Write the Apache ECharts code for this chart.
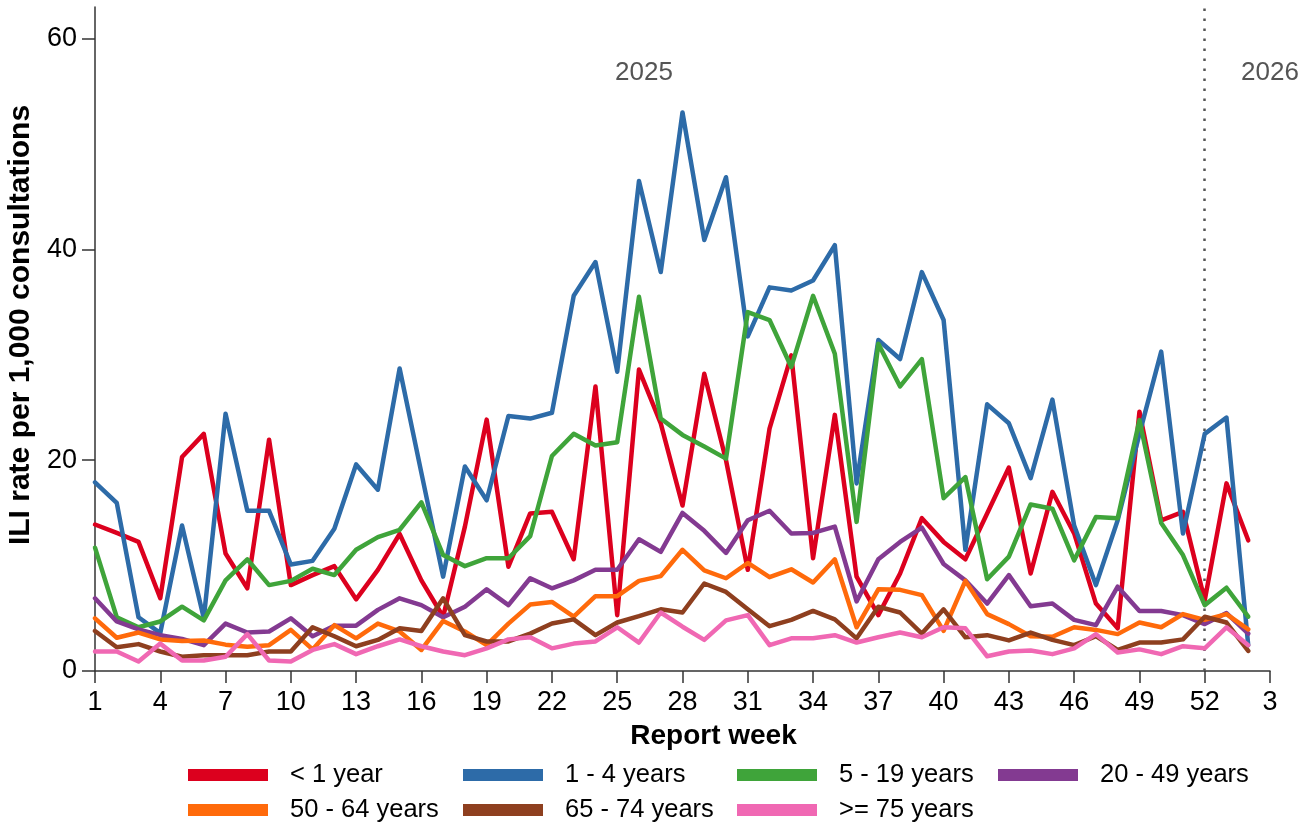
<!DOCTYPE html>
<html>
<head>
<meta charset="utf-8">
<title>ILI rate per 1,000 consultations by age group</title>
<script src="https://cdn.jsdelivr.net/npm/echarts@6/dist/echarts.min.js"></script>
<style>
  html, body { margin: 0; padding: 0; background: #fff; }
  #chart { width: 1309px; height: 826px; }
</style>
</head>
<body>
<div id="chart"></div>
<script>
// Report weeks: 2025 weeks 1-52, then 2026 weeks 1-3
const reportWeeks = [
  '2025-01','2025-02','2025-03','2025-04','2025-05','2025-06','2025-07','2025-08','2025-09','2025-10',
  '2025-11','2025-12','2025-13','2025-14','2025-15','2025-16','2025-17','2025-18','2025-19','2025-20',
  '2025-21','2025-22','2025-23','2025-24','2025-25','2025-26','2025-27','2025-28','2025-29','2025-30',
  '2025-31','2025-32','2025-33','2025-34','2025-35','2025-36','2025-37','2025-38','2025-39','2025-40',
  '2025-41','2025-42','2025-43','2025-44','2025-45','2025-46','2025-47','2025-48','2025-49','2025-50',
  '2025-51','2025-52','2026-01','2026-02','2026-03'
];

const yTicks = [0, 20, 40, 60];

const ageGroups = ['< 1 year', '1 - 4 years', '5 - 19 years', '20 - 49 years',
                   '50 - 64 years', '65 - 74 years', '>= 75 years'];

// ILI rate per 1,000 consultations, one value per report week
const under1 = [
  13.9, 13.1, 12.25, 6.9, 20.3, 22.5, 11.15, 7.85, 21.95, 8.15,
  9.1, 9.95, 6.8, 9.6, 13.0, 8.6, 5.15, 13.7, 23.85, 9.9,
  14.95, 15.1, 10.6, 27.0, 5.3, 28.6, 23.5, 15.7, 28.2, 20.0,
  9.6, 23.0, 29.95, 10.7, 24.3, 8.95, 5.3, 9.25, 14.5, 12.25,
  10.6, 14.95, 19.3, 9.25, 17.0, 13.05, 6.4, 4.05, 24.6, 14.3,
  15.1, 6.7, 17.8, 12.4
];
const age1to4 = [
  17.9, 15.95, 5.1, 3.6, 13.8, 5.0, 24.4, 15.2, 15.2, 10.1,
  10.45, 13.5, 19.6, 17.2, 28.7, 18.8, 8.95, 19.4, 16.2, 24.2,
  23.95, 24.5, 35.6, 38.8, 28.4, 46.5, 37.85, 53.0, 40.9, 46.85,
  31.75, 36.4, 36.1, 37.05, 40.4, 17.8, 31.4, 29.6, 37.85, 33.3,
  11.5, 25.3, 23.5, 18.3, 25.75, 13.8, 8.15, 14.3, 22.5, 30.3,
  13.05, 22.5, 24.05, 2.45
];
const age5to19 = [
  11.7, 5.1, 4.15, 4.7, 6.1, 4.8, 8.6, 10.6, 8.15, 8.55,
  9.7, 9.1, 11.5, 12.7, 13.4, 16.0, 11.0, 9.95, 10.7, 10.7,
  12.8, 20.4, 22.5, 21.4, 21.7, 35.5, 23.95, 22.4, 21.3, 20.15,
  34.05, 33.3, 28.85, 35.6, 30.1, 14.15, 31.05, 27.0, 29.6, 16.4,
  18.4, 8.7, 10.85, 15.8, 15.4, 10.5, 14.6, 14.5, 23.8, 14.05,
  11.0, 6.25, 7.9, 5.15
];
const age20to49 = [
  6.9, 4.7, 3.95, 3.4, 3.05, 2.45, 4.5, 3.65, 3.75, 5.0,
  3.3, 4.3, 4.3, 5.8, 6.9, 6.25, 5.1, 6.1, 7.75, 6.25,
  8.8, 7.85, 8.6, 9.6, 9.6, 12.5, 11.3, 15.0, 13.3, 11.2,
  14.3, 15.2, 13.05, 13.1, 13.7, 6.6, 10.6, 12.25, 13.6, 10.15,
  8.6, 6.4, 9.1, 6.15, 6.4, 4.85, 4.35, 8.0, 5.7, 5.7,
  5.3, 4.45, 5.5, 3.55
];
const age50to64 = [
  5.0, 3.15, 3.65, 3.0, 2.85, 2.9, 2.5, 2.3, 2.45, 3.9,
  2.05, 4.35, 3.1, 4.5, 3.75, 2.0, 4.75, 3.75, 2.45, 4.5,
  6.3, 6.55, 5.15, 7.1, 7.1, 8.55, 9.0, 11.5, 9.55, 8.8,
  10.25, 8.9, 9.65, 8.4, 10.6, 4.15, 7.75, 7.7, 7.2, 3.8,
  8.55, 5.4, 4.45, 3.3, 3.25, 4.15, 3.9, 3.5, 4.6, 4.15,
  5.4, 4.85, 5.4, 3.95
];
const age65to74 = [
  3.8, 2.25, 2.55, 1.85, 1.35, 1.5, 1.5, 1.5, 1.85, 1.85,
  4.15, 3.3, 2.35, 2.95, 4.05, 3.8, 6.9, 3.4, 2.8, 2.8,
  3.55, 4.5, 4.9, 3.4, 4.6, 5.2, 5.85, 5.55, 8.3, 7.5,
  5.85, 4.25, 4.85, 5.7, 4.9, 3.1, 6.1, 5.55, 3.55, 5.85,
  3.2, 3.4, 2.9, 3.65, 2.95, 2.45, 3.3, 2.0, 2.7, 2.7,
  3.0, 5.15, 4.6, 1.9
];
const age75plus = [
  1.85, 1.85, 0.9, 2.6, 1.0, 1.0, 1.35, 3.5, 1.0, 0.9,
  2.0, 2.55, 1.6, 2.35, 3.0, 2.35, 1.85, 1.5, 2.15, 3.0,
  3.2, 2.15, 2.6, 2.8, 4.15, 2.7, 5.55, 4.2, 2.95, 4.8,
  5.3, 2.45, 3.1, 3.1, 3.4, 2.7, 3.2, 3.65, 3.2, 4.15,
  4.05, 1.4, 1.85, 1.95, 1.6, 2.15, 3.5, 1.75, 2.05, 1.6,
  2.35, 2.15, 4.15, 2.45
];

const seriesValues = [under1, age1to4, age5to19, age20to49, age50to64, age65to74, age75plus];
const colors = ['#DC001E', '#2D6BA8', '#3FA43A', '#833A91', '#FF6A0B', '#8E3F1F', '#F068B3'];

// Year annotations and the year boundary
const yearLabels = [
  { text: '2025', week: '2025-26', y: 56.8, shift: 5 },
  { text: '2026', week: '2026-03', y: 56.8, shift: 0 }
];
const yearBoundaryWeek = '2025-52';

const fontFamily = 'Liberation Sans, Arial, sans-serif';

// legend laid out as a 4-column grid, two rows
const legendSlots = [
  { left: 188, top: 762 }, { left: 463, top: 762 }, { left: 737, top: 762 }, { left: 998, top: 762 },
  { left: 188, top: 797 }, { left: 463, top: 797 }, { left: 737, top: 797 }
];

const chart = echarts.init(document.getElementById('chart'), null, { renderer: 'canvas' });

const series = ageGroups.map((name, i) => {
  const s = {
    name: name,
    type: 'line',
    data: seriesValues[i],
    symbol: 'none',
    showSymbol: false,
    smooth: false,
    lineStyle: { width: 4.5, color: colors[i], join: 'round', cap: 'round' },
    itemStyle: { color: colors[i] },
    emphasis: { disabled: true },
    z: 2 + i
  };
  if (i === 0) {
    s.markLine = {
      silent: true,
      symbol: ['none', 'none'],
      label: { show: false },
      lineStyle: { type: [2.5, 7.5], color: '#555', width: 2.5 },
      data: [{ xAxis: yearBoundaryWeek }],
      z: 1
    };
    s.markPoint = {
      silent: true,
      symbol: 'rect',
      symbolSize: 1,
      itemStyle: { color: 'rgba(0,0,0,0)' },
      label: {
        show: true,
        position: 'inside',
        color: '#555',
        fontSize: 26,
        fontFamily: fontFamily,
        formatter: p => p.name
      },
      data: yearLabels.map(d => ({
        name: d.text,
        coord: [d.week, d.y],
        label: { offset: [d.shift, 0] }
      }))
    };
  }
  return s;
});

const legends = ageGroups.map((name, i) => ({
  data: [{ name: name, icon: 'rect' }],
  left: legendSlots[i].left,
  top: legendSlots[i].top,
  padding: 0,
  itemWidth: 80,
  itemHeight: 12,
  selectedMode: false,
  textStyle: {
    fontSize: 25.5,
    fontFamily: fontFamily,
    color: '#000',
    padding: [0, 0, 0, 17]
  }
}));

chart.setOption({
  animation: false,
  backgroundColor: '#fff',
  grid: {
    left: 95, right: 39, top: 7, bottom: 155,
    containLabel: false,
    outerBoundsMode: 'none'
  },
  legend: legends,
  xAxis: {
    type: 'category',
    data: reportWeeks,
    boundaryGap: false,
    name: 'Report week',
    nameLocation: 'middle',
    nameGap: 51,
    nameTextStyle: {
      fontSize: 28, fontWeight: 'bold', fontFamily: fontFamily, color: '#000',
      padding: [0, 0, 0, 62]
    },
    axisLine: { show: true, lineStyle: { color: '#333', width: 1.5 } },
    axisTick: { show: true, interval: 2, length: 12, lineStyle: { color: '#333', width: 1.5 } },
    axisLabel: {
      interval: 2,
      margin: 18,
      fontSize: 27,
      fontFamily: fontFamily,
      color: '#000',
      formatter: v => String(Number(v.slice(5)))
    },
    splitLine: { show: false }
  },
  yAxis: {
    type: 'value',
    min: 0,
    max: 63,
    name: 'ILI rate per 1,000 consultations',
    nameLocation: 'middle',
    nameGap: 52,
    nameTextStyle: {
      fontSize: 30, fontWeight: 'bold', fontFamily: fontFamily, color: '#000',
      padding: [0, 0, 0, 28]
    },
    axisLine: { show: true, lineStyle: { color: '#333', width: 1.5 } },
    axisTick: { show: true, length: 13, customValues: yTicks, lineStyle: { color: '#333', width: 1.5 } },
    axisLabel: {
      margin: 18,
      fontSize: 27,
      fontFamily: fontFamily,
      color: '#000',
      customValues: yTicks
    },
    splitLine: { show: false }
  },
  series: series
});
</script>
</body>
</html>
